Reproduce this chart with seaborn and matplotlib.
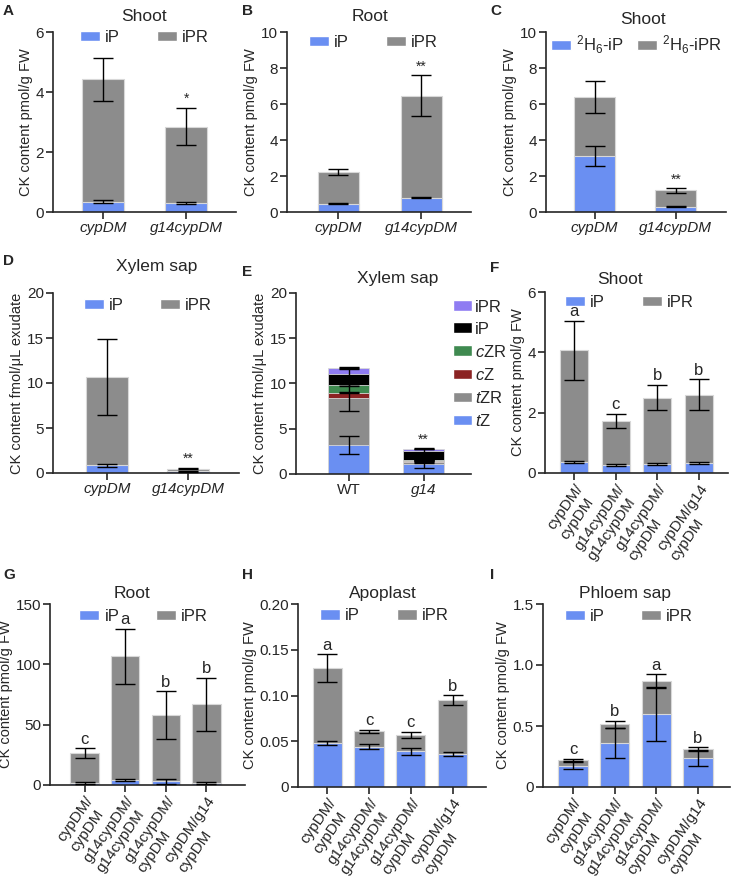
import numpy as np
import matplotlib.pyplot as plt
import seaborn as sns
from matplotlib.patches import Patch

sns.set_style("ticks")
plt.rcParams['font.family'] = ['Liberation Sans', 'DejaVu Sans']
plt.rcParams['mathtext.fontset'] = 'custom'
plt.rcParams['mathtext.rm'] = 'Liberation Sans'
plt.rcParams['mathtext.it'] = 'Liberation Sans:italic'
plt.rcParams['mathtext.bf'] = 'Liberation Sans:bold'
plt.rcParams['axes.linewidth'] = 1.2

BLUE = '#6a8ff2'
GRAY = '#8c8c8c'
EDGE = '#d8d8d8'

# ---- data ----
pair_cats = ['cypDM', 'g14cypDM']
graft_cats = ['cypDM/\ncypDM', 'g14cypDM/\ng14cypDM', 'g14cypDM/\ncypDM', 'cypDM/g14\ncypDM']

# A shoot
a_ip = [0.35, 0.30]
a_ip_err = [0.04, 0.02]
a_ipr = [4.07, 2.55]
a_ipr_err = [0.72, 0.63]
a_sig = ['', '*']

# B root
b_ip = [0.47, 0.80]
b_ip_err = [0.05, 0.04]
b_ipr = [1.75, 5.67]
b_ipr_err = [0.15, 1.12]
b_sig = ['', '**']

# C shoot, labelled
c_ip = [3.10, 0.30]
c_ip_err = [0.55, 0.03]
c_ipr = [3.28, 0.90]
c_ipr_err = [0.90, 0.13]
c_sig = ['', '**']

# D xylem sap
d_ip = [0.85, 0.20]
d_ip_err = [0.18, 0.05]
d_ipr = [9.85, 0.30]
d_ipr_err = [4.20, 0.10]
d_sig = ['', '**']

# E xylem sap, all CKs (bottom to top)
e_cats = ['WT', 'g14']
e_names = ['$\\mathit{t}$Z', '$\\mathit{t}$ZR', '$\\mathit{c}$Z', '$\\mathit{c}$ZR', 'iP', 'iPR']
e_colors = ['#6a8ff2', '#8c8c8c', '#8b2323', '#3f8a50', '#000000', '#8f7cf2']
e_vals = [[3.20, 1.10], [5.25, 0.20], [0.55, 0.10], [0.80, 0.15], [1.30, 0.95], [0.65, 0.30]]
e_errs = [[1.00, 0.45], [1.45, 0.10], [0.10, 0.05], [0.10, 0.05], [0.50, 0.30], [0.05, 0.05]]
e_sig = ['', '**']

# F shoot grafts
f_ip = [0.37, 0.26, 0.30, 0.33]
f_ip_err = [0.03, 0.04, 0.04, 0.04]
f_ipr = [3.70, 1.47, 2.20, 2.27]
f_ipr_err = [0.98, 0.23, 0.42, 0.50]
f_sig = ['a', 'c', 'b', 'b']

# G root grafts
g_ip = [1.5, 4.0, 3.0, 1.5]
g_ip_err = [1.0, 1.0, 2.0, 1.0]
g_ipr = [25.0, 102.5, 55.0, 65.5]
g_ipr_err = [4.2, 23.0, 19.7, 22.0]
g_sig = ['c', 'a', 'b', 'b']

# H apoplast grafts
h_ip = [0.048, 0.044, 0.039, 0.036]
h_ip_err = [0.002, 0.003, 0.004, 0.002]
h_ipr = [0.082, 0.017, 0.018, 0.059]
h_ipr_err = [0.015, 0.0015, 0.0035, 0.0055]
h_sig = ['a', 'c', 'c', 'b']

# I phloem sap grafts
i_ip = [0.175, 0.36, 0.60, 0.235]
i_ip_err = [0.028, 0.125, 0.22, 0.06]
i_ipr = [0.045, 0.155, 0.27, 0.08]
i_ipr_err = [0.01, 0.028, 0.055, 0.012]
i_sig = ['c', 'b', 'a', 'b']

W, H = 732, 877
fig = plt.figure(figsize=(W / 100, H / 100), dpi=100)


def make_ax(left, bottom, right, top):
    # pixel box -> figure fractions
    return fig.add_axes([left / W, 1 - bottom / H, (right - left) / W, (bottom - top) / H])


def style_ax(ax, ymax, yticks, ylabel, title, title_x, title_pad, yticklabels=None):
    ax.set_ylim(0, ymax)
    ax.set_yticks(yticks)
    if yticklabels is not None:
        ax.set_yticklabels(yticklabels)
    ax.set_ylabel(ylabel, fontsize=10.5, labelpad=2)
    ax.set_title(title, fontsize=12.5, x=title_x, pad=title_pad)
    sns.despine(ax=ax)
    ax.tick_params(axis='both', direction='out', length=5, width=1.2, labelsize=11, pad=1.5)


def errbars(ax, tops, errs):
    ax.errorbar(np.arange(len(tops)), tops, yerr=errs, fmt='none', ecolor='black',
                elinewidth=1, capsize=7, capthick=1, zorder=5)


def sig_marks(ax, tops, errs, marks, ymax, size):
    for k, m in enumerate(marks):
        if m:
            ax.text(k, tops[k] + errs[k] + 0.008 * ymax, m, ha='center', va='bottom',
                    fontsize=size, zorder=6)


def two_series(ax, cats, ip, ip_err, ipr, ipr_err, width, labels, leg_xy, colsp=2.2):
    total = np.array(ip) + np.array(ipr)
    sns.barplot(x=cats, y=total, color=GRAY, saturation=1, width=width, ax=ax,
                edgecolor=EDGE, linewidth=0.8, errorbar=None)
    sns.barplot(x=cats, y=ip, color=BLUE, saturation=1, width=width, ax=ax,
                edgecolor=EDGE, linewidth=0.8, errorbar=None)
    errbars(ax, total, ipr_err)
    errbars(ax, ip, ip_err)
    handles = [Patch(facecolor=BLUE, label=labels[0]), Patch(facecolor=GRAY, label=labels[1])]
    ax.legend(handles=handles, loc='center', bbox_to_anchor=leg_xy, ncol=2, frameon=False,
              fontsize=12, handlelength=1.2, handleheight=0.55, handletextpad=0.3,
              columnspacing=colsp, borderaxespad=0)
    return total


ylab_pmol = 'CK content pmol/g FW'
ylab_fmol = 'CK content fmol/μL exudate'

# ---- A ----
ax = make_ax(53, 212, 236, 32)
tot = two_series(ax, pair_cats, a_ip, a_ip_err, a_ipr, a_ipr_err, 0.5, ['iP', 'iPR'], (0.5, 0.97))
sig_marks(ax, tot, a_ipr_err, a_sig, 6, 10)
style_ax(ax, 6, [0, 2, 4, 6], ylab_pmol, 'Shoot', 0.5, 8)
ax.set_xlim(-0.6, 1.6)
ax.set_xticks([0, 1])
ax.set_xticklabels(pair_cats, fontstyle='italic')

# ---- B ----
ax = make_ax(287, 212, 471, 32)
tot = two_series(ax, pair_cats, b_ip, b_ip_err, b_ipr, b_ipr_err, 0.5, ['iP', 'iPR'], (0.47, 0.94))
sig_marks(ax, tot, b_ipr_err, b_sig, 10, 10)
style_ax(ax, 10, [0, 2, 4, 6, 8, 10], ylab_pmol, 'Root', 0.45, 8)
ax.set_xlim(-0.62, 1.6)
ax.set_xticks([0, 1])
ax.set_xticklabels(pair_cats, fontstyle='italic')

# ---- C ----
ax = make_ax(546, 212, 726, 32)
tot = two_series(ax, pair_cats, c_ip, c_ip_err, c_ipr, c_ipr_err, 0.5,
                 ['$^{2}$H$_{6}$-iP', '$^{2}$H$_{6}$-iPR'], (0.5, 0.93), colsp=0.8)
sig_marks(ax, tot, c_ipr_err, c_sig, 10, 10)
style_ax(ax, 10, [0, 2, 4, 6, 8, 10], ylab_pmol, 'Shoot', 0.54, 6)
ax.set_xlim(-0.6, 1.62)
ax.set_xticks([0, 1])
ax.set_xticklabels(pair_cats, fontstyle='italic')

# ---- D ----
ax = make_ax(53, 473, 239, 293)
tot = two_series(ax, pair_cats, d_ip, d_ip_err, d_ipr, d_ipr_err, 0.52, ['iP', 'iPR'], (0.51, 0.93))
sig_marks(ax, tot, d_ipr_err, d_sig, 20, 10)
style_ax(ax, 20, [0, 5, 10, 15, 20], ylab_fmol, 'Xylem sap', 0.56, 16)
ax.set_xlim(-0.67, 1.63)
ax.set_xticks([0, 1])
ax.set_xticklabels(pair_cats, fontstyle='italic')

# ---- E ----
ax = make_ax(296, 474, 471, 293)
cum = np.cumsum(np.array(e_vals), axis=0)
for s in range(len(e_vals) - 1, -1, -1):
    sns.barplot(x=e_cats, y=cum[s], color=e_colors[s], saturation=1, width=0.55, ax=ax,
                edgecolor=EDGE, linewidth=0.6, errorbar=None)
for s in range(len(e_vals)):
    errbars(ax, cum[s], e_errs[s])
sig_marks(ax, cum[-1], e_errs[-1], e_sig, 20, 10)
handles = [Patch(facecolor=e_colors[s], label=e_names[s]) for s in range(len(e_vals) - 1, -1, -1)]
ax.legend(handles=handles, loc='upper left', bbox_to_anchor=(0.86, 1.0), frameon=False,
          fontsize=12, handlelength=1.1, handleheight=0.6, handletextpad=0.2,
          labelspacing=0.42, borderaxespad=0)
style_ax(ax, 20, [0, 5, 10, 15, 20], ylab_fmol, 'Xylem sap', 0.58, 7)
ax.set_xlim(-0.7, 1.63)
ax.set_xticks([0, 1])
ax.set_xticklabels(e_cats)
ax.get_xticklabels()[1].set_fontstyle('italic')


def graft_ticks(ax, xlim):
    ax.set_xlim(*xlim)
    ax.set_xticks(range(4))
    ax.set_xticklabels(graft_cats, rotation=55, ha='right', va='top', rotation_mode='anchor',
                       fontsize=11, linespacing=1.2)
    for lab in ax.get_xticklabels():
        lab.set_multialignment('left')


# ---- F ----
ax = make_ax(545, 473, 728, 292)
tot = two_series(ax, graft_cats, f_ip, f_ip_err, f_ipr, f_ipr_err, 0.68, ['iP', 'iPR'], (0.46, 0.94))
sig_marks(ax, tot, f_ipr_err, f_sig, 6, 12)
style_ax(ax, 6, [0, 2, 4, 6], ylab_pmol, 'Shoot', 0.41, 6)
graft_ticks(ax, (-0.7, 3.7))

# ---- G ----
ax = make_ax(50, 785, 245, 604)
tot = two_series(ax, graft_cats, g_ip, g_ip_err, g_ipr, g_ipr_err, 0.7, ['iP', 'iPR'], (0.48, 0.93))
sig_marks(ax, tot, g_ipr_err, g_sig, 150, 12)
style_ax(ax, 150, [0, 50, 100, 150], ylab_pmol, 'Root', 0.42, 4)
ax.yaxis.set_label_coords(-0.19, 0.5)
graft_ticks(ax, (-0.85, 3.95))

# ---- H ----
ax = make_ax(298, 787, 486, 604)
tot = two_series(ax, graft_cats, h_ip, h_ip_err, h_ipr, h_ipr_err, 0.7, ['iP', 'iPR'], (0.46, 0.935))
sig_marks(ax, tot, h_ipr_err, h_sig, 0.2, 12)
style_ax(ax, 0.2, [0, 0.05, 0.10, 0.15, 0.20], ylab_pmol, 'Apoplast', 0.45, 4,
         yticklabels=['0', '0.05', '0.10', '0.15', '0.20'])
graft_ticks(ax, (-0.7, 3.8))

# ---- I ----
ax = make_ax(543, 787, 730, 604)
tot = two_series(ax, graft_cats, i_ip, i_ip_err, i_ipr, i_ipr_err, 0.7, ['iP', 'iPR'], (0.46, 0.93))
sig_marks(ax, tot, i_ipr_err, i_sig, 1.5, 12)
style_ax(ax, 1.5, [0, 0.5, 1.0, 1.5], ylab_pmol, 'Phloem sap', 0.44, 4,
         yticklabels=['0', '0.5', '1.0', '1.5'])
graft_ticks(ax, (-0.72, 3.77))

# panel letters
for lab, px, py in [('A', 3, 11), ('B', 242, 11), ('C', 490, 11),
                    ('D', 3, 261), ('E', 242, 272), ('F', 490, 268),
                    ('G', 3, 575), ('H', 242, 575), ('I', 490, 575)]:
    fig.text(px / W, 1 - py / H, lab, fontsize=11, fontweight='bold', va='center', ha='left')

fig.savefig('out.png', dpi=100)
